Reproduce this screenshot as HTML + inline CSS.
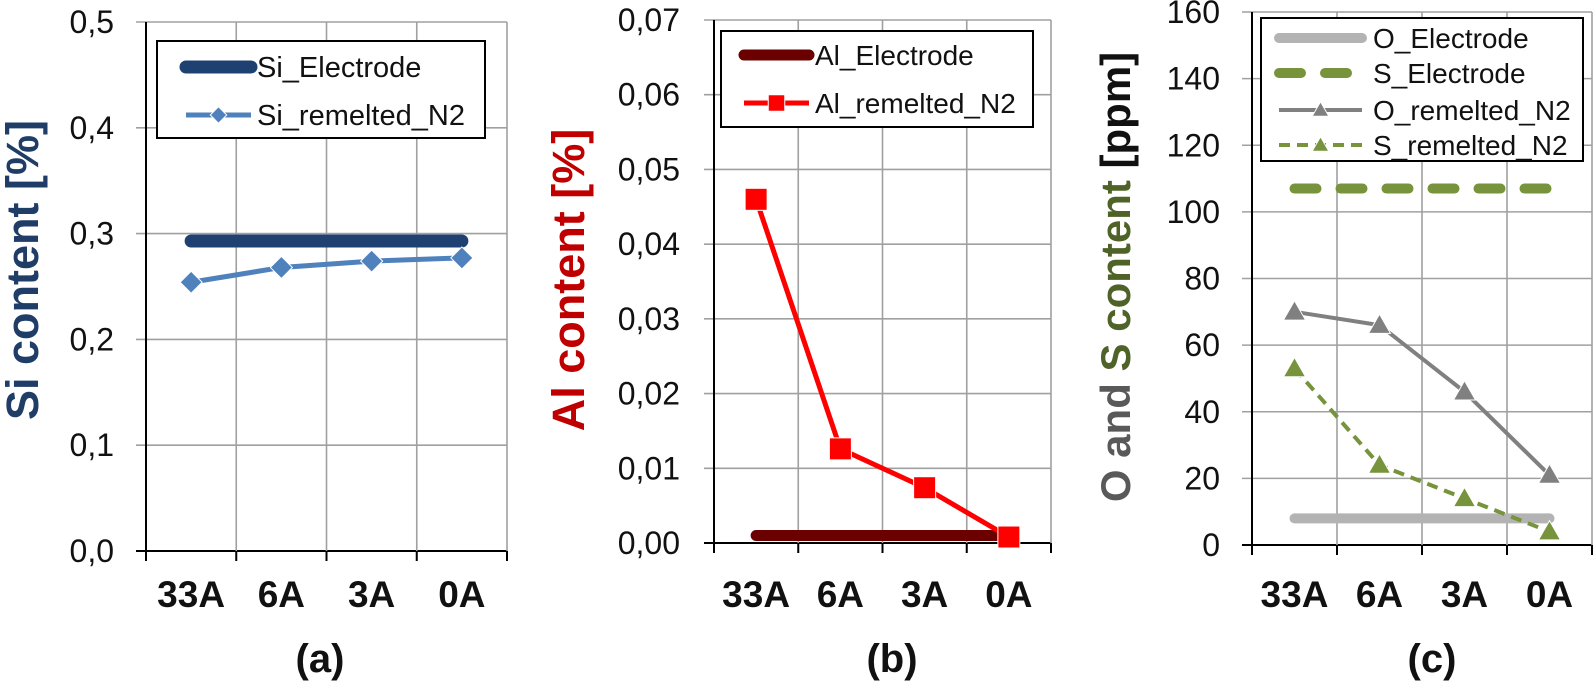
<!DOCTYPE html>
<html><head><meta charset="utf-8"><style>
html,body{margin:0;padding:0;background:#fff;}
svg{display:block;font-family:"Liberation Sans",Arial,sans-serif;}
</style></head><body>
<svg id="fig" width="1594" height="693" viewBox="0 0 1594 693" xmlns="http://www.w3.org/2000/svg"></svg>
<script>
const categories = ["33A","6A","3A","0A"];
const siTicks = ["0,0","0,1","0,2","0,3","0,4","0,5"];
const siElectrode = [0.293,0.293,0.293,0.293];
const siRemelted = [0.254,0.268,0.274,0.277];
const alTicks = ["0,00","0,01","0,02","0,03","0,04","0,05","0,06","0,07"];
const alElectrode = [0.001,0.001,0.001,0.001];
const alRemelted = [0.046,0.0126,0.0074,0.0008];
const osTicks = ["0","20","40","60","80","100","120","140","160"];
const oElectrode = [8,8,8,8];
const sElectrode = [107,107,107,107];
const oRemelted = [70,66,46,21];
const sRemelted = [53,24,14,4];

const NS="http://www.w3.org/2000/svg";
const svg=document.getElementById('fig');
function mk(tag,attrs,parent,txt){const e=document.createElementNS(NS,tag);for(const k in attrs)e.setAttribute(k,attrs[k]);if(txt!==undefined)e.textContent=txt;(parent||svg).appendChild(e);return e;}

function panel(cfg){
  const g=mk('g',{});
  
  
  const {x0,x1,y0,y1,max}=cfg;
  const n=categories.length, bw=(x1-x0)/n;
  const X=i=>x0+bw*(i+0.5)+(cfg.xoff||0);
  const Y=v=>y0-(v/max)*(y0-y1);
  const nt=cfg.ticks.length-1;
  for(let i=0;i<=nt;i++){const y=y0-(y0-y1)*i/nt;
    const l=mk('line',{x1:x0-10,x2:x1,y1:y,y2:y,stroke:i==0?'#000':'#a0a0a0','stroke-width':i==0?2:1.6},g);
    
    const t=mk('text',{x:cfg.lx,y:y+11,'text-anchor':'end','font-size':32,fill:'#111'},g,cfg.ticks[i]);
    
  }
  for(let i=0;i<=n;i++){const x=x0+bw*i;
    const l=mk('line',{x1:x,x2:x,y1:y1,y2:y0+10,stroke:i==0?'#000':'#a0a0a0','stroke-width':i==0?2:1.6},g);
    
    if(i>0){const tk=mk('line',{x1:x,x2:x,y1:y0,y2:y0+10,stroke:'#000','stroke-width':2},g);}
  }
  categories.forEach((c,i)=>{const t=mk('text',{x:X(i),y:607,'text-anchor':'middle','font-size':37,'font-weight':'bold',fill:'#111'},g,c);
    });
  cfg.series.forEach(s=>{
    const pts=s.data.map((v,i)=>[X(i),Y(v)]);
    let d;
    if(s.span){d=`M${pts[0][0]},${pts[0][1]}L${pts[pts.length-1][0]},${pts[pts.length-1][1]}`;}
    else d='M'+pts.map(p=>p.join(',')).join('L');
    const p=mk('path',{d:d,fill:'none',stroke:s.color,'stroke-width':s.w,'stroke-linecap':s.cap||'butt','stroke-dasharray':s.dash||'none'},g);
    
    if(s.marker)pts.forEach(pt=>{const m=marker(s.marker,pt[0],pt[1],s.mcolor||s.color,g,1);});
  });
  const L=cfg.legend;
  const box=mk('rect',{x:L.x,y:L.y,width:L.w,height:L.h,fill:'#fff',stroke:'#000','stroke-width':2},g);
  
  cfg.series.forEach((s,k)=>{const ly=L.rows[k];
    const e=mk('g',{},g);
    mk('line',{x1:L.lx0,x2:L.lx1,y1:ly,y2:ly,stroke:s.color,'stroke-width':s.w,'stroke-linecap':s.cap||'butt','stroke-dasharray':s.ldash||s.dash||'none'},e);
    if(s.marker)marker(s.marker,(L.lx0+L.lx1)/2,ly,s.mcolor||s.color,e,0.75);
    mk('text',{x:L.tx,y:ly+10,'font-size':L.fs,fill:'#111'},e,s.label);
  });
  return g;
}
function marker(type,x,y,c,parent,k){
  const r=11*k;
  if(type==='diamond')return mk('path',{d:`M${x},${y-r}L${x+r},${y}L${x},${y+r}L${x-r},${y}Z`,fill:c,stroke:'#fff','stroke-width':1},parent);
  if(type==='square')return mk('rect',{x:x-r,y:y-r,width:2*r,height:2*r,fill:c,stroke:'#fff','stroke-width':1},parent);
  return mk('path',{d:`M${x},${y-r}L${x+r},${y+r*0.75}L${x-r},${y+r*0.75}Z`,fill:c,stroke:'#fff','stroke-width':1},parent);
}

panel({name:'panel-a-si',x0:146,x1:507,y0:551,y1:22,max:0.5,ticks:siTicks,lx:114,
  series:[{id:'si-electrode',label:'Si_Electrode',data:siElectrode,color:'#1f4172',w:13,cap:'round',span:true},
          {id:'si-remelted',label:'Si_remelted_N2',data:siRemelted,color:'#4f81bd',w:5,marker:'diamond'}],
  legend:{x:157,y:41,w:328,h:97,lx0:186,lx1:251,tx:257,fs:29,rows:[67,115]}});
panel({name:'panel-b-al',x0:714,x1:1051,y0:543,y1:20,max:0.07,ticks:alTicks,lx:680,
  series:[{id:'al-electrode',label:'Al_Electrode',data:alElectrode,color:'#6b0000',w:11,cap:'round',span:true},
          {id:'al-remelted',label:'Al_remelted_N2',data:alRemelted,color:'#ff0000',w:5,marker:'square'}],
  legend:{x:721,y:31,w:312,h:96,lx0:744,lx1:809,tx:815,fs:28,rows:[55,103]}});
panel({name:'panel-c-os',x0:1252,x1:1592,y0:545,y1:12,max:160,ticks:osTicks,lx:1220,
  series:[{id:'o-electrode',label:'O_Electrode',data:oElectrode,color:'#b3b3b3',w:10,cap:'round',span:true},
          {id:'s-electrode',label:'S_Electrode',data:sElectrode,color:'#77933c',w:10,cap:'round',dash:'22 24',span:true},
          {id:'o-remelted',label:'O_remelted_N2',data:oRemelted,color:'#808080',w:4,marker:'triangle'},
          {id:'s-remelted',label:'S_remelted_N2',data:sRemelted,color:'#77933c',w:4,dash:'11 7',marker:'triangle'}],
  legend:{x:1261,y:18,w:322,h:143,lx0:1279,lx1:1362,tx:1373,fs:28,rows:[38,73,110,145]}});

function vtitle(name,cx,cy,parts,fs){const t=mk('text',{x:0,y:0,transform:`translate(${cx},${cy}) rotate(-90)`,'text-anchor':'middle','font-size':fs,'font-weight':'bold'});
  
  parts.forEach(p=>mk('tspan',{fill:p[1]},t,p[0]));}
vtitle('y-axis-title-si',38,270,[['Si content [%]','#1f3d66']],45);
vtitle('y-axis-title-al',584,280,[['Al content [%]','#c00000']],45);
vtitle('y-axis-title-os',1130,277,[['O and ','#595959'],['S content','#4f6228'],[' [ppm]','#111']],42);
[['panel-label-a',320,'(a)'],['panel-label-b',892,'(b)'],['panel-label-c',1432,'(c)']].forEach(a=>{
  const t=mk('text',{x:a[1],y:672,'text-anchor':'middle','font-size':40,'font-weight':'bold',fill:'#111'},svg,a[2]);
  });
</script>
</body></html>
